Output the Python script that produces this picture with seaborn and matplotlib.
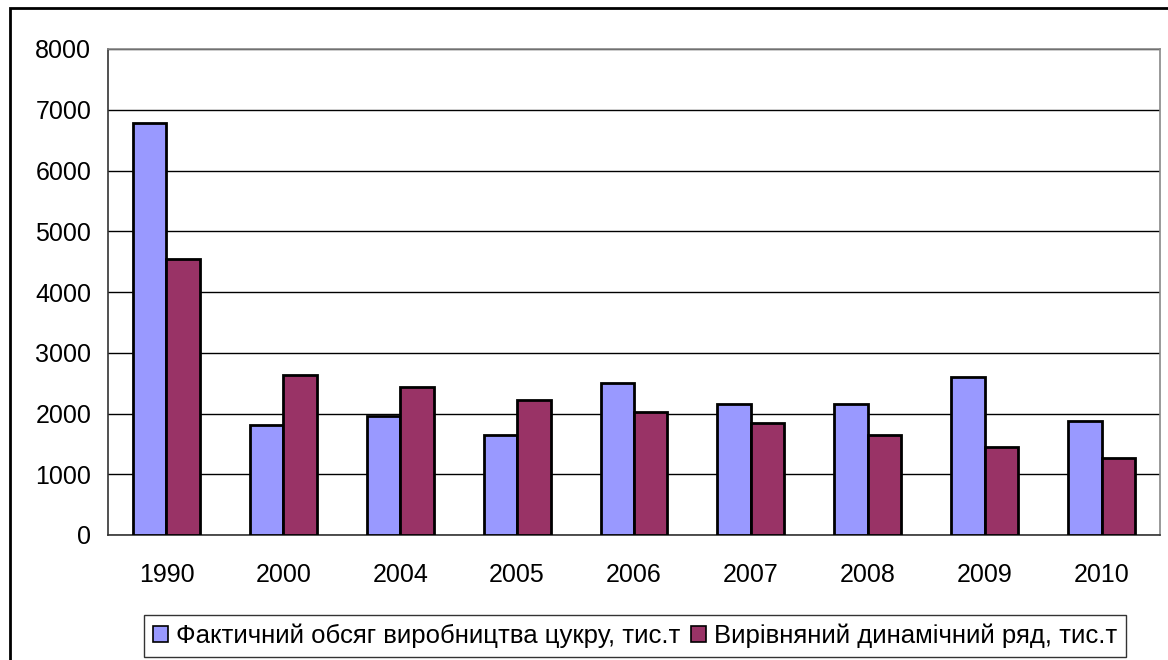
import numpy as np
import pandas as pd
import seaborn as sns
import matplotlib.pyplot as plt
from matplotlib.patches import Rectangle

# дані з діаграми
years = ["1990", "2000", "2004", "2005", "2006", "2007", "2008", "2009", "2010"]
actual = [6790, 1810, 1960, 1640, 2500, 2160, 2160, 2600, 1870]
trend = [4540, 2630, 2440, 2220, 2030, 1840, 1640, 1450, 1260]
series_names = ["Фактичний обсяг виробництва цукру, тис.т",
                "Вирівняний динамічний ряд, тис.т"]

df = pd.DataFrame({
    "year": years * 2,
    "value": actual + trend,
    "series": [series_names[0]] * len(years) + [series_names[1]] * len(years),
})

sns.set_style("white")
plt.rcParams["font.family"] = ["Liberation Sans", "DejaVu Sans"]
plt.rcParams["text.color"] = "black"
plt.rcParams["xtick.color"] = "black"
plt.rcParams["ytick.color"] = "black"

fig = plt.figure(figsize=(11.68, 6.6), dpi=100)
ax = fig.add_axes([108 / 1168, 1 - 535 / 660, (1160 - 108) / 1168, (535 - 49) / 660])

sns.barplot(data=df, x="year", y="value", hue="series",
            palette=["#9999FF", "#993366"], edgecolor="black", linewidth=2,
            width=4 / 7, gap=0, saturation=1, ax=ax, zorder=3)

ax.set_ylim(0, 8000)
ax.set_xlim(-0.5, len(years) - 0.5)
ax.set_yticks(range(0, 8001, 1000))
ax.yaxis.grid(True, color="black", linewidth=1)
ax.set_axisbelow(True)
ax.set_xlabel("")
ax.set_ylabel("")

# підписи по центру, риски між категоріями
ax.set_xticks(np.arange(-0.5, len(years), 1), minor=True)
ax.tick_params(axis="x", which="major", length=0, labelsize=18, pad=20)
ax.tick_params(axis="x", which="minor", length=6, width=1, color="#555555", direction="out")
ax.tick_params(axis="y", length=6, width=1, color="#444444", direction="out", labelsize=18, pad=6)

for s in ["left", "bottom"]:
    ax.spines[s].set_color("#333333")
    ax.spines[s].set_linewidth(1.2)
for s in ["top", "right"]:
    ax.spines[s].set_color("#888888")
    ax.spines[s].set_linewidth(1.2)

ax.legend_.remove()
handles = [Rectangle((0, 0), 1, 1, facecolor=c, edgecolor="black", linewidth=1.2)
           for c in ["#9999FF", "#993366"]]
leg = ax.legend(handles, series_names, loc="center", ncol=2,
                bbox_to_anchor=(635 / 1168, 1 - 636 / 660), bbox_transform=fig.transFigure,
                frameon=True, fancybox=False, edgecolor="black", fontsize=18.5,
                handlelength=0.6, handleheight=0.6, handletextpad=0.3,
                columnspacing=0.4, borderpad=0.35)
leg.get_frame().set_linewidth(1)

# рамка діаграми
fig.patches.append(Rectangle((10 / 1168, -0.1), 1.2, 1 - 8 / 660 + 0.1,
                             transform=fig.transFigure, fill=False,
                             edgecolor="black", linewidth=2))

fig.savefig("out.png", dpi=100)
